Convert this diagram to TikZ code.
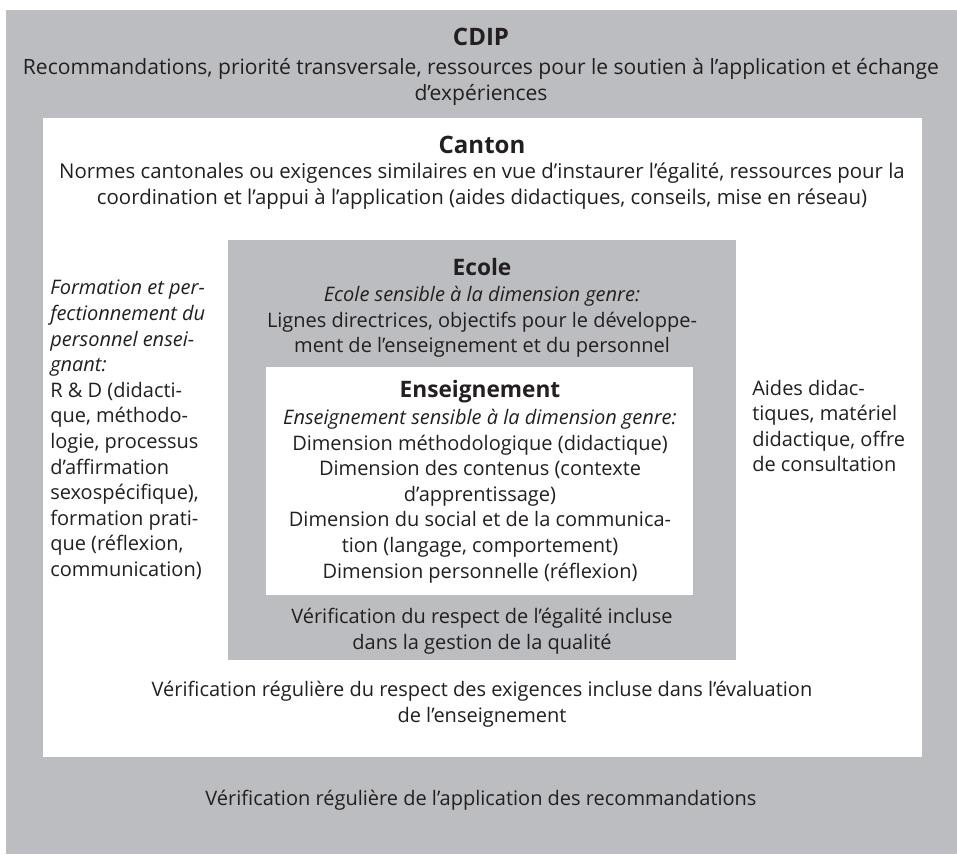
\documentclass[tikz,border=0pt]{standalone}
\usepackage{fontspec}
\setmainfont{Open Sans}
\definecolor{boxgray}{RGB}{188,189,192}
\definecolor{ink}{RGB}{35,31,32}
\tikzset{
  body/.style={font=\fontsize{15}{19.2}\selectfont, text=ink, align=center, inner sep=0pt},
  widebody/.style={body, font=\fontsize{15.8}{19.5}\selectfont},
  sidetext/.style={font=\fontsize{15}{19.2}\selectfont, text=ink, align=left, inner sep=0pt, anchor=west},
  boxtitle/.style={font=\fontsize{17}{19}\selectfont\bfseries, text=ink, inner sep=0pt},
  bigtitle/.style={font=\fontsize{18}{19}\selectfont\bfseries, text=ink, inner sep=0pt},
}
\begin{document}
\begin{tikzpicture}[x=0.75pt,y=-0.75pt]
\useasboundingbox (0,0) rectangle (957,854);
\fill[white] (0,0) rectangle (957,854);
% boxes
\fill[boxgray] (6,10) rectangle (957,854);
\fill[white] (43,118) rectangle (922,757);
\fill[boxgray] (228,240) rectangle (736,660);
\fill[white] (266,367) rectangle (693,595);
% CDIP
\node[bigtitle] (cdipt) at (481,37) {CDIP};
\node[widebody] (cdipb) at (481,82) {Recommandations, priorit\'e transversale, ressources pour le soutien \`a l’application et \'echange\\d’exp\'eriences};
\node[body] (cdipv) at (481,800) {V\'erification r\'eguli\`ere de l’application des recommandations};
% Canton
\node[bigtitle] (cantont) at (482,145) {Canton};
\node[body, font=\fontsize{15.3}{19.5}\selectfont] (cantonb) at (482,186) {Normes cantonales ou exigences similaires en vue d’instaurer l’\'egalit\'e, ressources pour la\\coordination et l’appui \`a l’application (aides didactiques, conseils, mise en r\'eseau)};
\node[body] (cantonv) at (482,704) {V\'erification r\'eguli\`ere du respect des exigences incluse dans l’\'evaluation\\de l’enseignement};
\node[sidetext] (left) at (50,430) {\textit{Formation et per-}\\\textit{fectionnement du}\\\textit{personnel ensei-}\\\textit{gnant:}\\R \& D (didacti-\\que, m\'ethodo-\\logie, processus\\d’affirmation\\sexosp\'ecifique),\\formation prati-\\que (r\'eflexion,\\communication)};
\node[sidetext] (right) at (752,426) {Aides didac-\\tiques, mat\'eriel\\didactique, offre\\de consultation};
% Ecole
\node[boxtitle] (ecolet) at (482,267) {Ecole};
\node[body] (ecoleb) at (482,322) {\textit{Ecole sensible \`a la dimension genre:}\\Lignes directrices, objectifs pour le d\'eveloppe-\\ment de l’enseignement et du personnel};
\node[body] (ecolev) at (482,631) {V\'erification du respect de l’\'egalit\'e incluse\\dans la gestion de la qualit\'e};
% Enseignement
\node[boxtitle] (enst) at (480,392) {Enseignement};
\node[body] (ensb) at (480,496) {\textit{Enseignement sensible \`a la dimension genre:}\\Dimension m\'ethodologique (didactique)\\Dimension des contenus (contexte\\d’apprentissage)\\Dimension du social et de la communica-\\tion (langage, comportement)\\Dimension personnelle (r\'eflexion)};
\end{tikzpicture}
\end{document}
